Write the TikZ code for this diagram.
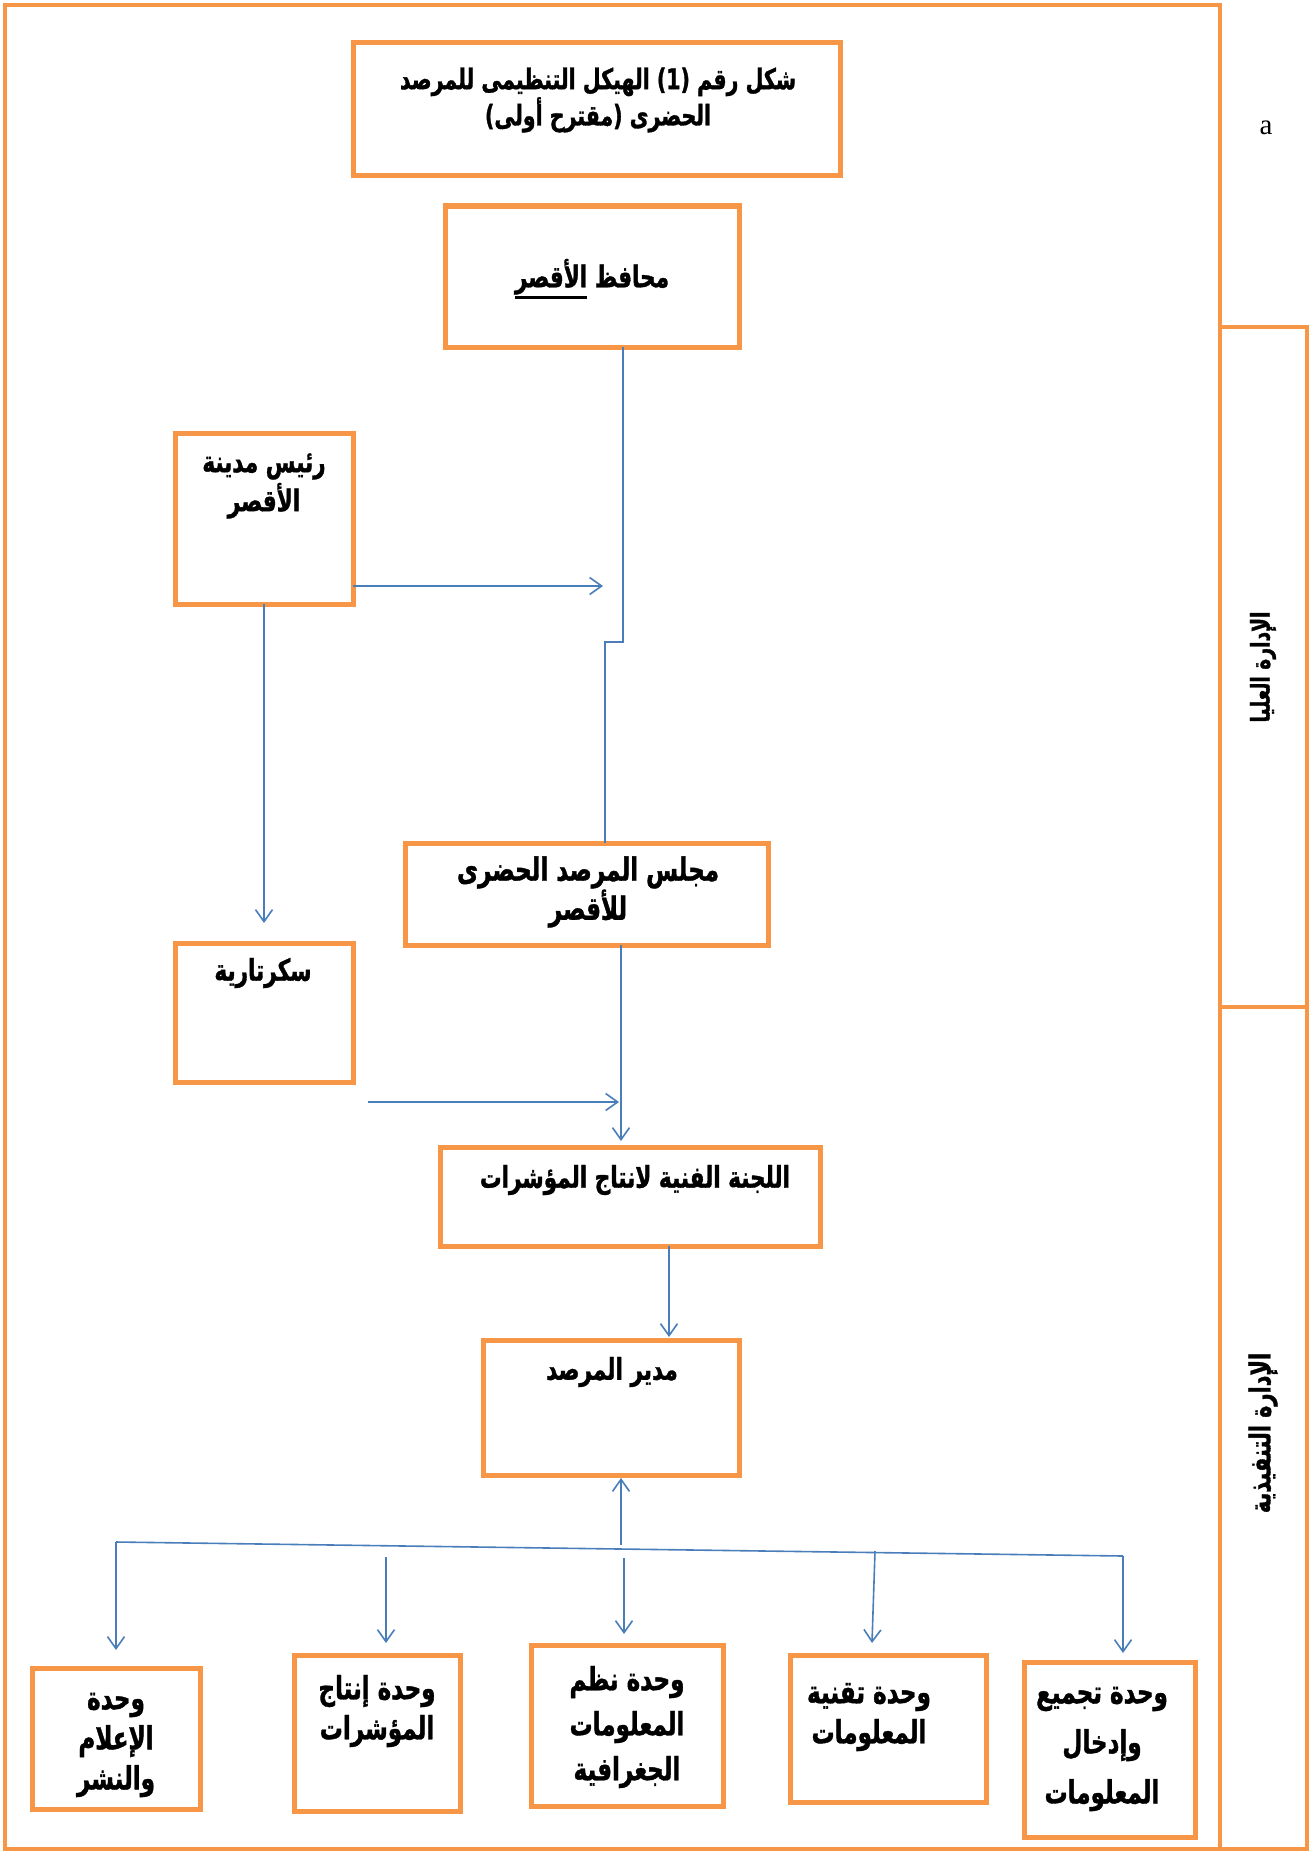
\documentclass[tikz,border=0pt]{standalone}
\usepackage{fontspec}
\setmainfont{Liberation Serif}
\newfontfamily\arfont[Script=Arabic, FakeStretch=0.72, FakeBold=1.2]{DejaVu Sans}
\usetikzlibrary{arrows.meta}
\TeXXeTstate=1
\definecolor{org}{HTML}{F79646}
\definecolor{blu}{HTML}{4A7EBB}
\newcommand\ulword[1]{\vtop{\hbox{#1}\kern1pt\hrule height 3.5pt}}
\begin{document}
\begin{tikzpicture}[x=1pt,y=-1pt,
  box/.style={draw=org, line width=5pt, anchor=north west, inner sep=0pt, outer sep=0pt},
  frame/.style={draw=org, line width=4pt},
  txt/.style={font=\arfont\bfseries\fontsize{30}{34}\selectfont, align=center, inner sep=0pt},
  btxt/.style={font=\arfont\bfseries\fontsize{32}{40}\selectfont, align=center, inner sep=0pt},
  conn/.style={draw=blu, line width=1.6pt},
  arr/.style={conn, -{Straight Barb[length=12pt,width=17pt,line width=1.6pt]}}
]
\useasboundingbox (0,0) rectangle (1311,1854);
% frames
\draw[frame] (5,5) rectangle (1220,1849);
\node[box, line width=4pt, minimum width=87pt, minimum height=680pt] (upper) at (1220,327) {};
\node[box, line width=4pt, minimum width=87pt, minimum height=842pt] (lower) at (1220,1007) {};
\node[txt, font=\arfont\bfseries\fontsize{26}{30}\selectfont, rotate=90] (upperT) at (1263,667) {\beginR الإدارة العليا\endR};
\node[txt, font=\arfont\bfseries\fontsize{29}{30}\selectfont, rotate=90] (lowerT) at (1263,1433) {\beginR الإدارة التنفيذية\endR};
\node[font=\fontsize{29}{34}\selectfont, inner sep=0pt] (aa) at (1266,128) {a};

% boxes
\node[box, minimum width=487pt, minimum height=133pt] (title) at (353,43) {};
\node[box, minimum width=294pt, minimum height=141pt] (gov) at (445,206) {};
\node[box, minimum width=178pt, minimum height=171pt] (mayor) at (175,433) {};
\node[box, minimum width=363pt, minimum height=102pt] (council) at (405,843) {};
\node[box, minimum width=178pt, minimum height=139pt] (secr) at (175,943) {};
\node[box, minimum width=380pt, minimum height=99pt] (comm) at (440,1147) {};
\node[box, minimum width=256pt, minimum height=135pt] (dir) at (483,1340) {};
\node[box, minimum width=168pt, minimum height=141pt] (b1) at (32,1668) {};
\node[box, minimum width=166pt, minimum height=156pt] (b2) at (294,1655) {};
\node[box, minimum width=192pt, minimum height=161pt] (b3) at (531,1645) {};
\node[box, minimum width=196pt, minimum height=147pt] (b4) at (790,1655) {};
\node[box, minimum width=171pt, minimum height=175pt] (b5) at (1024,1662) {};

% texts
\node[txt, font=\arfont\bfseries\fontsize{28.5}{33}\selectfont] (titleT) at (598,100) {\beginR شكل رقم (1) الهيكل التنظيمى للمرصد\endR\\\beginR الحضرى (مقترح أولى)\endR};
\node[txt] (govT) at (592,279) {\beginR محافظ \ulword{الأقصر}\endR};
\node[txt, font=\arfont\bfseries\fontsize{30}{39}\selectfont] (mayorT) at (264,486) {\beginR رئيس مدينة\endR\\\beginR الأقصر\endR};
\node[txt, font=\arfont\bfseries\fontsize{32}{35}\selectfont] (councilT) at (588,892) {\beginR مجلس المرصد الحضرى\endR\\\beginR للأقصر\endR};
\node[txt] (secrT) at (263,973) {\beginR سكرتارية\endR};
\node[txt] (commT) at (635,1180) {\beginR اللجنة الفنية لانتاج المؤشرات\endR};
\node[txt] (dirT) at (612,1372) {\beginR مدير المرصد\endR};
\node[btxt] (b1T) at (116,1745) {\beginR وحدة\endR\\\beginR الإعلام\endR\\\beginR والنشر\endR};
\node[btxt] (b2T) at (377,1711) {\beginR وحدة إنتاج\endR\\\beginR المؤشرات\endR};
\node[btxt, font=\arfont\bfseries\fontsize{32}{45}\selectfont] (b3T) at (627,1727) {\beginR وحدة نظم\endR\\\beginR المعلومات\endR\\\beginR الجغرافية\endR};
\node[btxt] (b4T) at (869,1717) {\beginR وحدة تقنية\endR\\\beginR المعلومات\endR};
\node[btxt, font=\arfont\bfseries\fontsize{32}{50}\selectfont] (b5T) at (1102,1749) {\beginR وحدة تجميع\endR\\\beginR وإدخال\endR\\\beginR المعلومات\endR};

% connector coordinates
\coordinate (j1) at (623,642);
\coordinate (j2) at (605,642);
\coordinate (m1) at (603,586);
\coordinate (s0) at (264,923);
\coordinate (k) at (621,1141);
\coordinate (s1) at (368,1102);
\coordinate (s2) at (619,1102);
\coordinate (d0) at (669,1337);
\coordinate (u0) at (621,1545);
\coordinate (u1) at (621,1478);
\coordinate (bl) at (116,1542);
\coordinate (br) at (1123,1556);
\coordinate (t1) at (116,1650);
\coordinate (a2) at (386,1557);
\coordinate (t2) at (386,1643);
\coordinate (a3) at (624,1558);
\coordinate (t3) at (624,1634);
\coordinate (a4) at (875,1551);
\coordinate (t4) at (872,1643);
\coordinate (t5) at (1123,1653);

% connectors
\draw[conn] (gov.south -| j1) -- (j1) -- (j2) -- (council.north -| j2);
\draw[arr] (mayor.east |- m1) -- (m1);
\draw[arr] (mayor.south) -- (mayor.south |- s0);
\draw[arr] (council.south -| k) -- (k);
\draw[arr] (s1) -- (s2);
\draw[arr] (comm.south -| d0) -- (d0);
\draw[arr] (u0) -- (u1);
\draw[conn] (bl) -- (br);
\draw[arr] (bl) -- (t1);
\draw[arr] (a2) -- (t2);
\draw[arr] (a3) -- (t3);
\draw[arr] (a4) -- (t4);
\draw[arr] (br) -- (t5);
\end{tikzpicture}
\end{document}
